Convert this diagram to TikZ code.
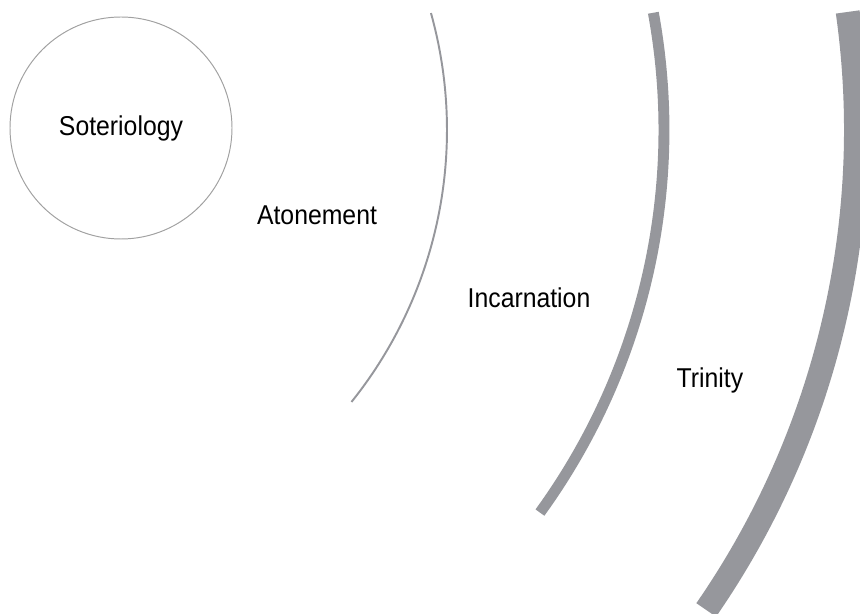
\documentclass[tikz,border=0pt]{standalone}
\usepackage{fontspec}
\setmainfont{Liberation Sans}[FakeStretch=0.91]
\usetikzlibrary{positioning}
\definecolor{ringgray}{RGB}{150,151,156}
\definecolor{rimgray}{RGB}{160,160,160}

\begin{document}
\begin{tikzpicture}[font=\fontsize{15.5}{18}\selectfont,
    ring/.style={draw=ringgray, line cap=butt},
    doctrine/.style={anchor=base}]
    \clip (0,0) rectangle (17.2,-12.28);

    % Core doctrine
    \node[circle, draw=rimgray, line width=0.55pt, minimum size=4.44cm, inner sep=0pt] (soteriology) at (2.42,-2.56) {Soteriology};

    % Rings, all about one centre
    \coordinate (centre) at (0.24,-2.6);
    \foreach \r/\a/\b/\w in {8.7/15.6/-38.7/1.1pt, 13.04/10.36/-35.93/6.2pt, 16.88/8.04/-34.66/13.6pt} {
        \draw[ring, line width=\w] (centre) ++(\a:\r) arc[start angle=\a, end angle=\b, radius=\r];
    }

    % Labels between the rings
    \node[doctrine] (atonement) at (6.34,-4.5) {Atonement};
    \node[doctrine] (incarnation) at (10.58,-6.16) {Incarnation};
    \node[doctrine] (trinity) at (14.2,-7.76) {Trinity};
\end{tikzpicture}
\end{document}
